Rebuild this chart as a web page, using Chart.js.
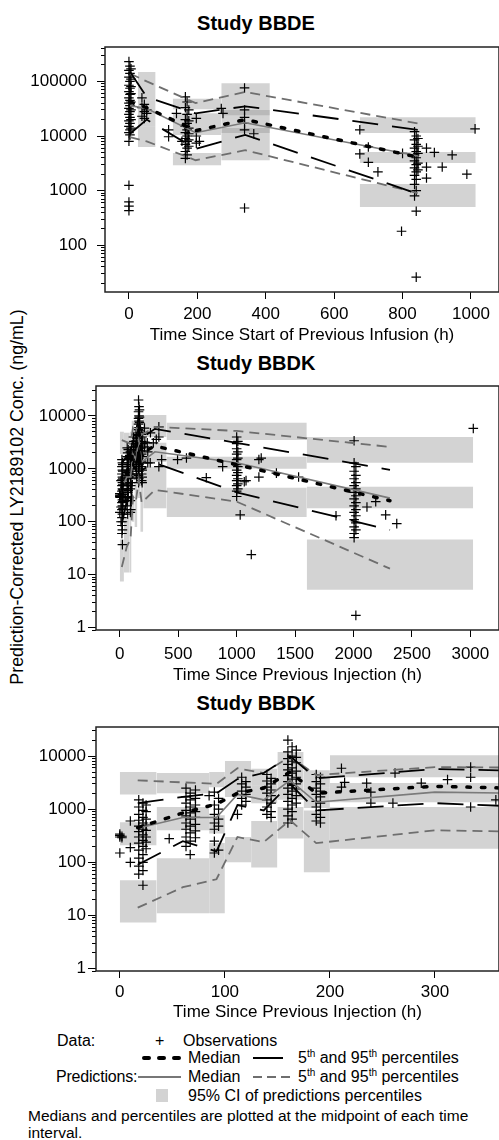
<!DOCTYPE html>
<html>
<head>
<meta charset="utf-8">
<script src="https://cdn.jsdelivr.net/npm/chart.js@4.4.1/dist/chart.umd.min.js"></script>
<style>
  html, body { margin: 0; padding: 0; width: 499px; height: 1140px; overflow: hidden; background: #fff;
    font-family: "Liberation Sans", Arial, sans-serif; color: #000; }
  canvas { position: absolute; left: 0; }
  .title { position: absolute; left: 0; width: 512px; text-align: center; font-weight: bold; font-size: 20px; line-height: 24px; }
  .ytitle { position: absolute; left: 17px; top: 497px; transform: translate(-50%, -50%) rotate(-90deg);
    white-space: nowrap; font-size: 17.8px; line-height: 20px; }
  .lg { position: absolute; font-size: 16px; line-height: 18px; white-space: nowrap; }
  .lg sup { font-size: 10px; vertical-align: 6px; line-height: 0; }
  .note { font-size: 15.5px; }
  svg { position: absolute; }
</style>
</head>
<body>
<div class="title" style="top:11px">Study BBDE</div>
<div class="title" style="top:351px">Study BBDK</div>
<div class="title" style="top:691px">Study BBDK</div>
<div class="ytitle">Prediction-Corrected LY2189102 Conc. (ng/mL)</div>

<canvas id="c1" width="505" height="352" style="top:0px"></canvas>
<canvas id="c2" width="505" height="340" style="top:352px"></canvas>
<canvas id="c3" width="505" height="337" style="top:692px"></canvas>

<!-- legend -->
<div class="lg" style="left:57px; top:1032px">Data:</div>
<div class="lg" style="left:155px; top:1032px">+</div>
<div class="lg" style="left:183px; top:1032px">Observations</div>

<svg style="left:140px; top:1054px" width="44" height="8"><line x1="4" y1="4" x2="40" y2="4" stroke="#000" stroke-width="4" stroke-dasharray="5 10" stroke-linecap="round"/></svg>
<div class="lg" style="left:188px; top:1049px">Median</div>
<svg style="left:253px; top:1054px" width="32" height="8"><line x1="0" y1="4" x2="30" y2="4" stroke="#000" stroke-width="2"/></svg>
<div class="lg" style="left:298px; top:1049px">5<sup>th</sup> and 95<sup>th</sup> percentiles</div>

<div class="lg" style="left:56px; top:1068px; letter-spacing:-0.2px">Predictions:</div>
<svg style="left:138px; top:1073px" width="44" height="8"><line x1="0" y1="4" x2="43" y2="4" stroke="#777" stroke-width="2"/></svg>
<div class="lg" style="left:188px; top:1068px">Median</div>
<svg style="left:253px; top:1073px" width="44" height="8"><line x1="0" y1="4" x2="42" y2="4" stroke="#6e6e6e" stroke-width="2" stroke-dasharray="9 5"/></svg>
<div class="lg" style="left:298px; top:1068px">5<sup>th</sup> and 95<sup>th</sup> percentiles</div>

<div style="position:absolute; left:156px; top:1089px; width:12px; height:13px; background:#d3d3d3"></div>
<div class="lg" style="left:188px; top:1087px">95% CI of predictions percentiles</div>

<div class="lg note" style="left:28px; top:1107px">Medians and percentiles are plotted at the midpoint of each time</div>
<div class="lg note" style="left:28px; top:1124px">interval.</div>

<script>
// ---------- Study BBDE (infusion) ----------
const bbdeBinStart = [0, 26, 128, 270, 675];
const bbdeBinEnd   = [6, 78, 270, 412, 1014];
const bbdeBinMid   = [3, 52, 195, 340, 845];

const bbdeObsMedian  = [42000, 33000, 12500, 20000, 4100];
const bbdeObsP5      = [11000, 20000, 5800, 10500, 870];
const bbdeObsP95     = [150000, 52000, 26000, 35000, 13000];
const bbdePredMedian = [36000, 32000, 11500, 17500, 4300];
const bbdePredP5     = [9500, 8000, 3600, 5500, 900];
const bbdePredP95    = [140000, 100000, 40000, 64000, 17000];

// 95% CI boxes: [low, high] for the 5th, median and 95th percentile
const bbdeCiP5Lo  = [8500, 6300, 2900, 3600, 500];
const bbdeCiP5Hi  = [22000, 15000, 4900, 14000, 1320];
const bbdeCiMedLo = [22000, 15000, 10400, 11300, 3200];
const bbdeCiMedHi = [60000, 45000, 26000, 30000, 5100];
const bbdeCiP95Lo = [60000, 45000, 31000, 24000, 11300];
const bbdeCiP95Hi = [150000, 148000, 48000, 93000, 22000];

// observations: [time, [concentrations]]
const bbdeObs = [
  [0, [230000, 160000, 120000, 85000, 65000, 50000, 40000, 32000, 25000, 19000, 15000, 11500, 8000, 1250, 620, 520, 430]],
  [3, [190000, 140000, 100000, 75000, 58000, 45000, 36000, 28000, 22000, 17000, 13000, 10500]],
  [6, [170000, 110000, 80000, 60000, 42000, 30000, 20000, 14000]],
  [38, [50000, 33000, 23000]],
  [45, [38000, 28000, 21000]],
  [52, [30000, 26000]],
  [116, [13000, 9700]],
  [139, [26000]],
  [155, [8000]],
  [165, [52000, 33000, 20000, 15000, 11500, 9000, 7000, 5200, 3900]],
  [170, [42000, 25000, 17000, 13000, 10000, 8000, 6000, 4500]],
  [175, [30000, 19000, 14000, 11000, 8500, 6500]],
  [197, [21000, 10000, 7400]],
  [206, [8000]],
  [270, [32000]],
  [275, [26000]],
  [338, [76000, 30000, 22000, 17000, 13000, 480]],
  [365, [11000]],
  [675, [13000, 4700]],
  [700, [3300, 6300]],
  [728, [2200]],
  [797, [180]],
  [800, [4800]],
  [835, [12000, 8500, 6000, 4500, 3500, 2600, 1900, 1300, 800]],
  [840, [10000, 7000, 5200, 4000, 3000, 2200, 1600, 1000, 420, 26]],
  [845, [9000, 6500, 4800, 3200, 2400]],
  [870, [6000, 2700, 1700]],
  [893, [5000]],
  [916, [2700]],
  [945, [4500]],
  [988, [2000]],
  [1012, [13500]]
];

// ---------- Study BBDK (injection) ----------
const bbdkBinStart = [0, 35, 85, 100, 125, 150, 175, 200, 400, 1600];
const bbdkBinEnd   = [35, 85, 100, 125, 150, 175, 200, 400, 1600, 3024];
const bbdkBinMid   = [17, 60, 92, 112, 137, 162, 187, 300, 1000, 2312];

const bbdkObsMedian  = [450, 850, 1250, 2000, 2500, 5000, 2000, 2700, 1200, 250];
const bbdkObsP5      = [90, 250, 160, 1200, 950, 3000, 950, 1300, 360, 70];
const bbdkObsP95     = [1300, 1700, 2000, 3700, 4800, 10000, 3800, 5700, 3100, 960];
const bbdkPredMedian = [440, 700, 700, 1900, 1500, 3500, 1350, 2100, 1300, 280];
const bbdkPredP5     = [14, 34, 48, 300, 240, 620, 230, 400, 240, 13];
const bbdkPredP95    = [3500, 3200, 3000, 5900, 4800, 9800, 4400, 6200, 5200, 2600];

const bbdkCiP5Lo  = [7.4, 11, 11, 100, 80, 280, 65, 180, 123, 5.2];
const bbdkCiP5Hi  = [46, 120, 230, 300, 600, 1100, 950, 1100, 440, 46];
const bbdkCiMedLo = [210, 400, 350, 1700, 1300, 1500, 1050, 1350, 1000, 180];
const bbdkCiMedHi = [570, 1100, 770, 3500, 2800, 5000, 2600, 3100, 1700, 460];
const bbdkCiP95Lo = [1900, 2000, 2600, 3500, 2800, 5000, 2600, 4000, 3500, 1300];
const bbdkCiP95Hi = [5000, 4800, 5000, 8100, 5800, 12000, 5400, 10400, 7400, 4000];

const bbdkObs = [
  [0, [300, 320, 340, 150]],
  [2, [310, 290]],
  [10, [190, 600, 100]],
  [18, [1500, 1100, 800, 620, 480, 380, 300, 230, 170, 120, 85, 60]],
  [22, [1300, 950, 700, 550, 420, 330, 260, 200, 140, 100, 70, 37]],
  [25, [1200, 900, 650, 500, 400, 300, 240, 180]],
  [47, [280]],
  [63, [2500, 1700, 1300, 950, 750, 550, 420, 300, 200]],
  [67, [2000, 1500, 1100, 850, 650, 480, 360, 250, 140]],
  [72, [2300, 1600, 1200, 900, 700, 520, 390, 290]],
  [85, [1800]],
  [90, [2100, 1200, 800, 550, 420, 250, 150]],
  [94, [1600, 1000, 650, 480, 170]],
  [112, [800]],
  [116, [4000, 3000, 2200, 1600, 1200]],
  [120, [3300, 2600, 1900, 1400]],
  [140, [4500, 3400, 2600, 2000, 1500, 1100, 800]],
  [144, [3800, 3000, 2300, 1800, 1300, 900, 700]],
  [160, [20000, 12000, 9000, 7000, 5500, 4300, 3300, 2500, 1900, 1400, 1000, 750, 550]],
  [164, [15000, 10000, 8000, 6000, 4800, 3700, 2800, 2200, 1600, 1200, 900, 650]],
  [168, [13000, 9500, 7500, 5200, 4000, 3000, 2400, 1800, 1300]],
  [187, [4500, 3300, 2500, 1900, 1400, 1100, 800, 600]],
  [191, [4000, 3000, 2200, 1700, 1300, 950, 700, 550]],
  [211, [5900, 2600]],
  [214, [3200]],
  [235, [3100]],
  [239, [2100, 1300]],
  [260, [1300]],
  [262, [4800]],
  [287, [3100]],
  [312, [3600]],
  [334, [6200, 4000, 1100]],
  [358, [1500]],
  [494, [1500]],
  [570, [1600]],
  [740, [680]],
  [880, [1100]],
  [1000, [4000, 3000, 2400, 1900, 1500, 1200, 950, 750, 600, 480, 380, 300]],
  [1010, [3300, 2100, 1600, 1100, 850, 650, 520, 420]],
  [1030, [135]],
  [1065, [570]],
  [1080, [600]],
  [1125, [24]],
  [1190, [1500, 700]],
  [1210, [1600]],
  [1340, [830]],
  [1530, [700]],
  [1850, [130]],
  [2005, [3400, 1300, 900, 650, 480, 360, 270, 200, 150, 110, 80, 60, 50]],
  [2020, [1100, 750, 550, 420, 310, 230, 170, 130, 95, 70, 1.7]],
  [2115, [190]],
  [2190, [240]],
  [2275, [135]],
  [2370, [92]],
  [3025, [5800]]
];

// axis ticks
const bbdeTimeTicks = [0, 200, 400, 600, 800, 1000];
const bbdkLongTimeTicks = [0, 500, 1000, 1500, 2000, 2500, 3000];
const bbdkShortTimeTicks = [0, 100, 200, 300];
const bbdeConcLabels = [100, 1000, 10000, 100000];
const bbdkConcLabels = [1, 10, 100, 1000, 10000];

Chart.defaults.font.family = '"Liberation Sans", Arial, sans-serif';
Chart.defaults.font.size = 17;
Chart.defaults.color = '#000';
Chart.defaults.animation = false;

const CI_FILL = 'rgba(150,150,150,0.42)';
const OBS_MED = { borderColor: '#000', borderWidth: 3.5, borderDash: [3.5, 11], borderCapStyle: 'round' };
const OBS_PCT = { borderColor: '#000', borderWidth: 1.8, borderDash: [26, 14] };
const PRED_MED = { borderColor: '#7a7a7a', borderWidth: 1.6 };
const PRED_PCT = { borderColor: '#6e6e6e', borderWidth: 1.8, borderDash: [10, 6] };

function lineSet(mids, vals, style) {
  return Object.assign({
    data: mids.map((x, i) => ({ x: x, y: vals[i] })),
    pointRadius: 0, fill: false, tension: 0
  }, style);
}

function obsSet(clusters) {
  const pts = [];
  clusters.forEach(([t, concs]) => concs.forEach(c => pts.push({ x: t, y: c })));
  return {
    data: pts, showLine: false, pointStyle: 'cross', pointRadius: 4.8,
    pointBorderColor: '#000', pointBorderWidth: 1.2, borderColor: '#000'
  };
}

// each CI box = lower edge line + upper edge line filled down to it
function boxSets(starts, ends, lo, hi) {
  const sets = [];
  starts.forEach((x0, i) => {
    const x1 = ends[i];
    sets.push({ data: [{ x: x0, y: lo[i] }, { x: x1, y: lo[i] }], borderColor: 'rgba(0,0,0,0)',
      borderWidth: 0, pointRadius: 0, fill: false });
    sets.push({ data: [{ x: x0, y: hi[i] }, { x: x1, y: hi[i] }], borderColor: 'rgba(0,0,0,0)',
      borderWidth: 0, pointRadius: 0, fill: '-1', backgroundColor: CI_FILL });
  });
  return sets;
}

function logTickValues(min, max) {
  const out = [];
  for (let e = Math.floor(Math.log10(min)); e <= Math.ceil(Math.log10(max)); e++) {
    for (let m = 1; m <= 9; m++) {
      const v = m * Math.pow(10, e);
      if (v >= min && v <= max) out.push(v);
    }
  }
  return out;
}

const frame = {
  id: 'frame',
  afterDraw(chart) {
    const { ctx, chartArea: a } = chart;
    ctx.save();
    ctx.strokeStyle = '#222';
    ctx.lineWidth = 1.5;
    ctx.strokeRect(a.left, a.top, a.right - a.left, a.bottom - a.top);
    ctx.restore();
  }
};

function drawPanel(id, p) {
  const datasets = [
    lineSet(p.mid, p.obsMed, OBS_MED),
    lineSet(p.mid, p.obsP5, OBS_PCT),
    lineSet(p.mid, p.obsP95, OBS_PCT),
    lineSet(p.mid, p.predMed, PRED_MED),
    lineSet(p.mid, p.predP5, PRED_PCT),
    lineSet(p.mid, p.predP95, PRED_PCT),
    obsSet(p.obs),
    ...boxSets(p.start, p.end, p.ci[0], p.ci[1]),
    ...boxSets(p.start, p.end, p.ci[2], p.ci[3]),
    ...boxSets(p.start, p.end, p.ci[4], p.ci[5])
  ];
  const canvas = document.getElementById(id);
  new Chart(canvas, {
    type: 'line',
    data: { datasets: datasets },
    options: {
      responsive: false,
      devicePixelRatio: 1,
      layout: { padding: { top: p.padTop, left: 0, right: canvas.width - 501, bottom: 0 } },
      plugins: { legend: { display: false }, tooltip: { enabled: false } },
      scales: {
        x: {
          type: 'linear', min: p.xRange[0], max: p.xRange[1],
          afterBuildTicks: (scale) => { scale.ticks = p.xTicks.map(v => ({ value: v })); },
          afterFit: (scale) => { scale.height = p.xHeight; },
          ticks: { autoSkip: false, maxRotation: 0, padding: p.xPad, callback: (v) => String(v) },
          grid: { drawOnChartArea: false, tickLength: 7, tickColor: '#000' },
          border: { display: false },
          title: { display: true, text: p.xTitle, padding: { top: 0, bottom: 6 } }
        },
        y: {
          type: 'logarithmic', min: p.yRange[0], max: p.yRange[1],
          afterBuildTicks: (scale) => {
            scale.ticks = logTickValues(p.yRange[0], p.yRange[1]).map(v => ({ value: v }));
          },
          afterFit: (scale) => { scale.width = p.yWidth; },
          ticks: { autoSkip: false, padding: p.yPad,
            callback: (v) => p.yLabels.includes(v) ? String(v) : '' },
          grid: {
            drawOnChartArea: false, tickLength: 8, tickColor: '#000',
            tickBorderDash: (ctx) => p.yLabels.includes(ctx.tick.value) ? [] : [4, 100],
            tickBorderDashOffset: (ctx) => p.yLabels.includes(ctx.tick.value) ? 0 : 100
          },
          border: { display: false }
        }
      }
    },
    plugins: [frame]
  });
}

const bbdkLines = {
  start: bbdkBinStart, end: bbdkBinEnd, mid: bbdkBinMid,
  obsMed: bbdkObsMedian, obsP5: bbdkObsP5, obsP95: bbdkObsP95,
  predMed: bbdkPredMedian, predP5: bbdkPredP5, predP95: bbdkPredP95,
  ci: [bbdkCiP5Lo, bbdkCiP5Hi, bbdkCiMedLo, bbdkCiMedHi, bbdkCiP95Lo, bbdkCiP95Hi],
  obs: bbdkObs, yLabels: bbdkConcLabels, yWidth: 96, yPad: 2
};

drawPanel('c1', {
  start: bbdeBinStart, end: bbdeBinEnd, mid: bbdeBinMid,
  obsMed: bbdeObsMedian, obsP5: bbdeObsP5, obsP95: bbdeObsP95,
  predMed: bbdePredMedian, predP5: bbdePredP5, predP95: bbdePredP95,
  ci: [bbdeCiP5Lo, bbdeCiP5Hi, bbdeCiMedLo, bbdeCiMedHi, bbdeCiP95Lo, bbdeCiP95Hi],
  obs: bbdeObs, yLabels: bbdeConcLabels, yWidth: 105, yPad: 10,
  xRange: [-70, 1082], yRange: [13.9, 427000], xTicks: bbdeTimeTicks,
  xTitle: 'Time Since Start of Previous Infusion (h)',
  padTop: 47, xHeight: 60, xPad: 5
});

drawPanel('c2', Object.assign({}, bbdkLines, {
  xRange: [-204, 3245], yRange: [0.9, 36800], xTicks: bbdkLongTimeTicks,
  xTitle: 'Time Since Previous Injection (h)',
  padTop: 34, xHeight: 62, xPad: 7
}));

drawPanel('c3', Object.assign({}, bbdkLines, {
  xRange: [-22.7, 361], yRange: [0.9, 35300], xTicks: bbdkShortTimeTicks,
  xTitle: 'Time Since Previous Injection (h)',
  padTop: 35, xHeight: 58, xPad: 4
}));
</script>
</body>
</html>
